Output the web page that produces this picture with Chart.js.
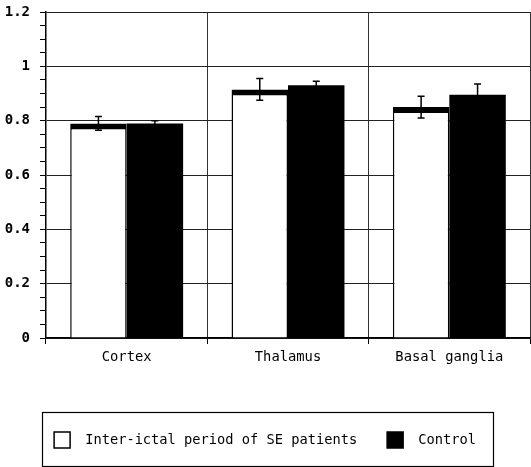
<!DOCTYPE html>
<html><head><meta charset="utf-8">
<script src="https://cdn.jsdelivr.net/npm/chart.js@4"></script>
<style>html,body{margin:0;padding:0;background:#fff;}#wrap{width:531px;height:467px;position:relative;}</style>
</head><body><div id="wrap"><canvas id="c" width="531" height="467"></canvas></div>
<script>
const categories = ['Cortex', 'Thalamus', 'Basal ganglia'];
const seriesNames = ['Inter-ictal period of SE patients', 'Control'];
const patients = [0.79, 0.915, 0.85];
const patientsErr = [0.025, 0.04, 0.04];
const control = [0.79, 0.93, 0.895];
const controlErr = [0.01, 0.015, 0.04];
const yMajorTicks = [0, 0.2, 0.4, 0.6, 0.8, 1, 1.2];
const yTickLabels = ['0', '0.2', '0.4', '0.6', '0.8', '1', '1.2'];

const MONO = "'DejaVu Sans Mono', 'Liberation Mono', monospace";
const errors = [patientsErr, controlErr];

const errorBarPlugin = {
  id: 'errorBars',
  afterDatasetsDraw(chart) {
    const ctx = chart.ctx;
    const y = chart.scales.y;
    ctx.save();
    ctx.strokeStyle = '#000';
    ctx.lineWidth = 1.5;
    chart.data.datasets.forEach((ds, i) => {
      const meta = chart.getDatasetMeta(i);
      meta.data.forEach((bar, j) => {
        const v = ds.data[j], e = errors[i][j];
        const yt = y.getPixelForValue(v + e), yb = y.getPixelForValue(v - e);
        ctx.beginPath();
        ctx.moveTo(bar.x, yt); ctx.lineTo(bar.x, yb);
        ctx.moveTo(bar.x - 3.5, yt); ctx.lineTo(bar.x + 3.5, yt);
        ctx.moveTo(bar.x - 3.5, yb); ctx.lineTo(bar.x + 3.5, yb);
        ctx.stroke();
      });
    });
    ctx.restore();
  }
};

const legendFramePlugin = {
  id: 'legendFrame',
  afterDraw(chart) {
    const lg = chart.legend;
    if (!lg || !lg.legendHitBoxes || !lg.legendHitBoxes.length) return;
    const hb = lg.legendHitBoxes;
    let l = Infinity, r = -Infinity, t = Infinity, b = -Infinity;
    hb.forEach(h => { l = Math.min(l, h.left); r = Math.max(r, h.left + h.width); t = Math.min(t, h.top); b = Math.max(b, h.top + h.height); });
    const ctx = chart.ctx;
    ctx.save();
    ctx.strokeStyle = '#000';
    ctx.lineWidth = 1.2;
    const x0 = l - 12, x1 = r + 17, y0 = t - 20, y1 = Math.min(b + 18, chart.height - 1);
    ctx.strokeRect(Math.round(x0) + 0.5, Math.round(y0) + 0.5, Math.round(x1 - x0), Math.round(y1 - y0));
    ctx.restore();
  }
};

new Chart(document.getElementById('c'), {
  type: 'bar',
  data: {
    labels: categories,
    datasets: [
      { label: seriesNames[0], data: patients, backgroundColor: '#fff', borderColor: '#000',
        borderWidth: { top: 6, left: 1.5, right: 1.5, bottom: 0 }, borderSkipped: 'start',
        categoryPercentage: 0.7, barPercentage: 1.0 },
      { label: seriesNames[1], data: control, backgroundColor: '#000', borderColor: '#000',
        borderWidth: 0, categoryPercentage: 0.7, barPercentage: 1.0 }
    ]
  },
  options: {
    responsive: false,
    animation: false,
    devicePixelRatio: 1,
    layout: { padding: { top: 0, right: 1, bottom: 9, left: 0 } },
    plugins: {
      tooltip: { enabled: false },
      legend: {
        position: 'bottom',
        labels: {
          color: '#000',
          font: { family: MONO, size: 13.7 },
          boxWidth: 16, boxHeight: 16, padding: 30,
          generateLabels(chart) {
            const items = Chart.defaults.plugins.legend.labels.generateLabels(chart);
            items.forEach(it => { it.lineWidth = 1.5; it.strokeStyle = '#000'; it.text = ' ' + it.text; });
            return items;
          }
        }
      }
    },
    scales: {
      x: {
        grid: { color: '#333', lineWidth: 1, offset: true, drawTicks: true, tickLength: 6, tickColor: '#000' },
        border: { color: '#000', width: 1.5 },
        ticks: { color: '#000', font: { family: MONO, size: 13.8 }, padding: 5, maxRotation: 0 },
        afterFit(s) { s.height = 64; }
      },
      y: {
        min: 0, max: 1.2,
        ticks: {
          stepSize: 0.05, autoSkip: false, color: '#000', padding: 10,
          font: { family: MONO, size: 14, weight: 'bold' },
          callback(v) {
            const k = yMajorTicks.findIndex(m => Math.abs(m - v) < 1e-6);
            return k >= 0 ? yTickLabels[k] : '';
          }
        },
        grid: {
          color(ctx) {
            const v = ctx.tick ? ctx.tick.value : 0;
            return yMajorTicks.some(m => Math.abs(m - v) < 1e-6) ? '#222' : 'rgba(0,0,0,0)';
          },
          tickColor: '#000', tickLength: 6, lineWidth: 1
        },
        border: { color: '#000', width: 1.5 },
        afterFit(s) { s.width = 46; s.paddingTop = 12; }
      }
    }
  },
  plugins: [errorBarPlugin, legendFramePlugin]
});
</script></body></html>
